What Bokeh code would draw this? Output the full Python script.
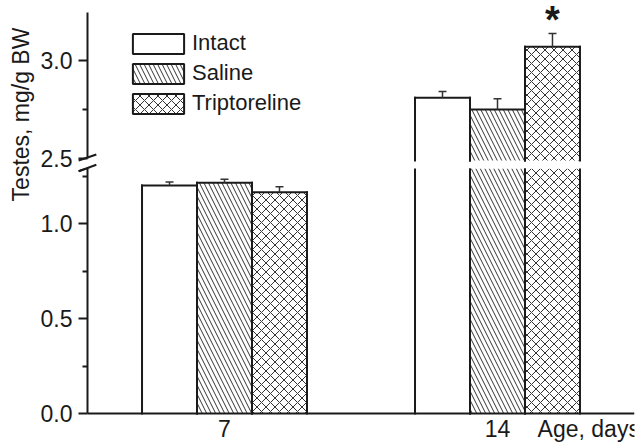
import numpy as np
from bokeh.plotting import figure
from bokeh.layouts import row, column
from bokeh.models import (ColumnDataSource, Range1d, FixedTicker, NumeralTickFormatter,
                          Legend, LegendItem, Arrow)
from bokeh.core.properties import value
from bokeh.embed import file_html
from bokeh.resources import INLINE

# Relative testes weight (mg/g body weight): group means and upper SEM
days = [7, 14]
groups = ["Intact", "Saline", "Triptoreline"]
intact = [1.20, 2.81]
saline = [1.215, 2.75]
triptoreline = [1.165, 3.07]
intact_sem = [0.018, 0.032]
saline_sem = [0.018, 0.055]
triptoreline_sem = [0.028, 0.068]
significance = ["", "*"]          # marks above the Triptoreline bars

low_ticks = [0.0, 0.5, 1.0]
low_minor = [0.25, 0.75, 1.25]
high_ticks = [2.5, 3.0]
high_minor = [2.75]
x_labels = ["7", "14"]
x_title = "Age, days"
y_title = "Testes, mg/g BW"

FONT = "Liberation Sans"
INK = "#1a1a1a"
HATCH = "#333333"

means = [intact, saline, triptoreline]
sems = [intact_sem, saline_sem, triptoreline_sem]
hatches = [None, "left_diagonal_line", "diagonal_cross"]

BAR_W = 1.41
offsets = [-BAR_W, 0.0, BAR_W]

# geometry of the broken value axis
PX_DAY = 39.0                 # pixels per day on the age axis
AXIS_X = 3.487                # age at which the value axis is drawn
X_END = 17.513
TITLE_X = 16.34               # age-axis position of the axis title
LABEL_W = 36
PANEL_W = 642 - LABEL_W
SPLIT = 168                   # where the lower segment begins
OVERLAP = 4                   # the upper canvas reaches a little past the split
TOP_H = SPLIT + OVERLAP
BOT_H = 444 - SPLIT
HIGH_PX = 196.0               # pixels per unit, upper segment
LOW_PX = 190.0                # pixels per unit, lower segment
HIGH_TOP = 3.245              # end of the upper axis line
HIGH_END = 3.0 + 60 / HIGH_PX
HIGH_START = 3.0 - (TOP_H - 60) / HIGH_PX
LOW_START = -(444 - 413) / LOW_PX
LOW_END = (413 - SPLIT) / LOW_PX
BREAK_HI = 2.49               # upper segment bars start here

x_range = Range1d(AXIS_X - 51 / PX_DAY, X_END)
high_range = Range1d(HIGH_START, HIGH_END)
low_range = Range1d(LOW_START, LOW_END)


def style_yaxis(ax, ticks, minor, bounds):
    ax.fixed_location = AXIS_X
    ax.bounds = bounds
    ax.ticker = FixedTicker(ticks=ticks, minor_ticks=minor)
    ax.formatter = NumeralTickFormatter(format="0.0")
    ax.axis_line_width = 2
    ax.axis_line_color = INK
    ax.major_tick_out = 9
    ax.major_tick_in = 0
    ax.minor_tick_out = 5
    ax.minor_tick_in = 0
    ax.major_tick_line_width = 2
    ax.minor_tick_line_width = 2
    ax.major_tick_line_color = INK
    ax.minor_tick_line_color = INK
    ax.major_label_standoff = 6
    ax.major_label_text_font = FONT
    ax.major_label_text_font_size = "23px"
    ax.major_label_text_color = INK


def panel(height, y_range, show_x, base):
    p = figure(width=PANEL_W, height=height, x_range=x_range, y_range=y_range,
               output_backend="svg", toolbar_location=None,
               x_axis_location="below" if show_x else None,
               min_border_left=0, min_border_right=8,
               min_border_top=0, min_border_bottom=0,
               outline_line_color=None, background_fill_alpha=0,
               border_fill_alpha=0)
    p.grid.visible = False
    lo, hi = y_range.start, y_range.end
    for i, g in enumerate(groups):
        # bars that reach into this segment
        ks = [k for k in range(len(days)) if means[i][k] > max(lo, base)]
        if not ks:
            continue
        xs = [days[k] + offsets[i] for k in ks]
        tops = [means[i][k] for k in ks]
        src = ColumnDataSource(dict(
            x=xs, top=tops, bottom=[base] * len(ks),
            left=[x - BAR_W / 2 for x in xs], right=[x + BAR_W / 2 for x in xs]))
        p.vbar(x="x", top="top", bottom="bottom", width=BAR_W, source=src,
               fill_color="white", line_color=None,
               hatch_pattern=hatches[i], hatch_scale=9,
               hatch_color=HATCH, hatch_weight=1)
        for side in ("left", "right"):
            p.segment(x0=side, y0="bottom", x1=side, y1="top", source=src,
                      line_color=INK, line_width=2, line_cap="square")
        # bar tops and error bars that end inside this segment
        kt = [k for k in ks if means[i][k] < hi]
        if not kt:
            continue
        xt = [days[k] + offsets[i] for k in kt]
        tsrc = ColumnDataSource(dict(
            x=xt, top=[means[i][k] for k in kt],
            cap=[means[i][k] + sems[i][k] for k in kt],
            left=[x - BAR_W / 2 for x in xt], right=[x + BAR_W / 2 for x in xt]))
        p.segment(x0="left", y0="top", x1="right", y1="top", source=tsrc,
                  line_color=INK, line_width=2, line_cap="square")
        p.segment(x0="x", y0="top", x1="x", y1="cap", source=tsrc,
                  line_color=HATCH, line_width=1.5)
        p.scatter(x="x", y="cap", source=tsrc, marker="dash", size=8,
                  line_color=HATCH, line_width=1.5)
    return p


# upper segment of the value axis
top = panel(TOP_H, high_range, False, BREAK_HI)
style_yaxis(top.yaxis[0], high_ticks, high_minor, (high_ticks[0], HIGH_TOP))

for k, mark in enumerate(significance):
    if mark:
        i = groups.index("Triptoreline")
        top.text(x=[days[k] + offsets[i]], y=[triptoreline[k] + triptoreline_sem[k]],
                 text=[mark], text_align="center", text_baseline="alphabetic",
                 y_offset=-13, text_font=value(FONT), text_font_size="38px",
                 text_font_style="bold", text_color=INK)

# legend swatches: hidden copies of the bars with full outlines
swatches = []
for i, g in enumerate(groups):
    r = top.vbar(x=[d + offsets[i] for d in days], top=means[i], bottom=0,
                 width=BAR_W, fill_color="white", line_color=INK, line_width=2,
                 hatch_pattern=hatches[i], hatch_scale=9, hatch_color=HATCH,
                 hatch_weight=1, visible=False)
    swatches.append(LegendItem(label=g, renderers=[r]))
legend = Legend(items=swatches, location=(90, 52 + OVERLAP), orientation="vertical",
                glyph_width=64, glyph_height=25, spacing=4, padding=0, margin=0,
                label_standoff=2, label_text_font=FONT, label_text_font_size="22px",
                label_text_color=INK, border_line_color=None,
                background_fill_alpha=0, inactive_fill_alpha=0,
                click_policy="none")
top.add_layout(legend)

# lower segment with the age axis
bot = panel(BOT_H, low_range, True, 0.0)
bot.margin = (-OVERLAP, 0, 0, 0)
style_yaxis(bot.yaxis[0], low_ticks, low_minor, (0.0, LOW_END))
xa = bot.xaxis[0]
xa.fixed_location = 0.0
xa.bounds = (AXIS_X, X_END)
xa.ticker = FixedTicker(ticks=days + [TITLE_X], minor_ticks=[])
overrides = {d: s for d, s in zip(days, x_labels)}
overrides[TITLE_X] = x_title
xa.major_label_overrides = overrides
xa.axis_line_width = 2
xa.axis_line_color = INK
xa.major_tick_out = 0
xa.major_tick_in = 0
xa.minor_tick_out = 0
xa.minor_tick_in = 0
xa.major_label_standoff = 2
xa.major_label_text_font = FONT
xa.major_label_text_font_size = "23px"
xa.major_label_text_color = INK

# axis break marks: two short slanted strokes across the value axis
dx = 8.85 / PX_DAY
top.add_layout(Arrow(end=None, x_start=AXIS_X - dx, y_start=3.0 - 100 / HIGH_PX,
                     x_end=AXIS_X + dx, y_end=3.0 - 94 / HIGH_PX,
                     line_width=2, line_color=INK))
bot.add_layout(Arrow(end=None, x_start=AXIS_X - dx, y_start=(413 - 170.7) / LOW_PX,
                     x_end=AXIS_X + dx, y_end=(413 - 164.3) / LOW_PX,
                     line_width=2, line_color=INK))
top.add_layout(Arrow(end=None, x_start=AXIS_X - dx, y_start=3.0 - 110.7 / HIGH_PX,
                     x_end=AXIS_X + dx, y_end=3.0 - 104.3 / HIGH_PX,
                     line_width=2, line_color=INK))

# value axis title, spanning both segments
lab = figure(width=LABEL_W, height=444, x_range=Range1d(0, LABEL_W), y_range=Range1d(0, 444),
             output_backend="svg", toolbar_location=None, min_border=0,
             x_axis_location=None, y_axis_location=None, outline_line_color=None,
             background_fill_color="white", border_fill_color="white")
lab.grid.visible = False
lab.text(x=[20], y=[330], text=[y_title], angle=np.pi / 2, text_align="center",
         text_baseline="middle", text_font=value(FONT), text_font_size="23px",
         text_color=INK)

layout = row(lab, column(top, bot))
open("out.html", "w").write(file_html(layout, INLINE))
